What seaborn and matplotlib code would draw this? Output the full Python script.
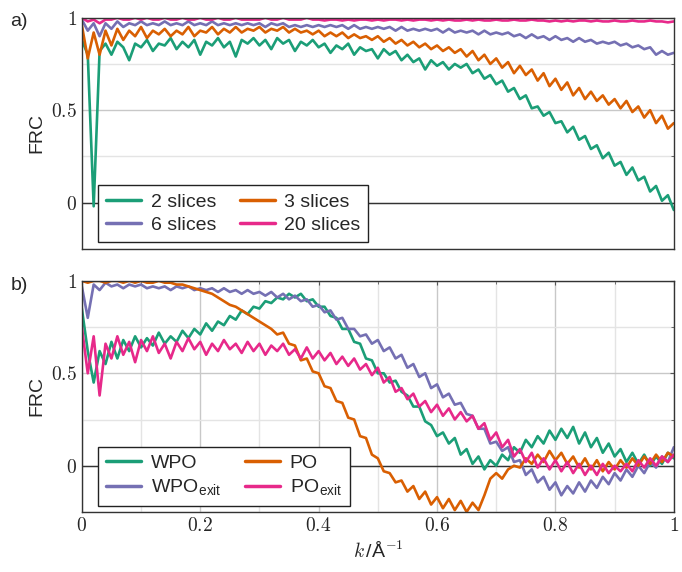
import numpy as np
import pandas as pd
import seaborn as sns
import matplotlib.pyplot as plt
from matplotlib.ticker import MultipleLocator

# spatial frequency grid (1/Angstrom)
k = np.round(np.linspace(0, 1, 101), 2)

# a) FRC for different numbers of slices
frc_2 = [0.88, 0.80, -0.02, 0.82, 0.86, 0.80, 0.87, 0.84, 0.77, 0.86,
         0.84, 0.88, 0.82, 0.86, 0.85, 0.89, 0.83, 0.87, 0.84, 0.88,
         0.80, 0.87, 0.85, 0.89, 0.84, 0.87, 0.79, 0.88, 0.86, 0.89,
         0.85, 0.88, 0.83, 0.89, 0.86, 0.88, 0.82, 0.87, 0.85, 0.88,
         0.84, 0.86, 0.81, 0.85, 0.83, 0.86, 0.80, 0.84, 0.82, 0.83,
         0.78, 0.83, 0.80, 0.82, 0.77, 0.80, 0.76, 0.78, 0.72, 0.77,
         0.74, 0.76, 0.72, 0.75, 0.73, 0.75, 0.70, 0.72, 0.67, 0.69,
         0.64, 0.66, 0.60, 0.62, 0.56, 0.58, 0.51, 0.52, 0.47, 0.49,
         0.43, 0.44, 0.38, 0.41, 0.34, 0.36, 0.29, 0.31, 0.24, 0.27,
         0.20, 0.22, 0.15, 0.19, 0.12, 0.14, 0.06, 0.09, 0.01, 0.04,
         -0.04]
frc_3 = [0.96, 0.78, 0.92, 0.80, 0.93, 0.85, 0.94, 0.88, 0.93, 0.90,
         0.95, 0.89, 0.93, 0.91, 0.94, 0.90, 0.93, 0.91, 0.95, 0.90,
         0.93, 0.92, 0.95, 0.91, 0.94, 0.92, 0.95, 0.92, 0.94, 0.93,
         0.95, 0.92, 0.94, 0.93, 0.95, 0.92, 0.94, 0.92, 0.93, 0.91,
         0.93, 0.90, 0.92, 0.90, 0.92, 0.89, 0.91, 0.89, 0.90, 0.88,
         0.90, 0.87, 0.89, 0.86, 0.88, 0.85, 0.87, 0.84, 0.86, 0.83,
         0.85, 0.82, 0.84, 0.81, 0.83, 0.79, 0.82, 0.77, 0.80, 0.75,
         0.78, 0.73, 0.76, 0.70, 0.74, 0.69, 0.72, 0.66, 0.70, 0.63,
         0.67, 0.61, 0.65, 0.58, 0.62, 0.56, 0.60, 0.55, 0.58, 0.53,
         0.56, 0.51, 0.55, 0.49, 0.52, 0.46, 0.50, 0.43, 0.47, 0.40,
         0.43]
frc_6 = [0.99, 0.93, 0.97, 0.90, 0.97, 0.94, 0.98, 0.95, 0.97, 0.96,
         0.98, 0.96, 0.97, 0.96, 0.98, 0.96, 0.97, 0.96, 0.98, 0.96,
         0.97, 0.96, 0.98, 0.96, 0.97, 0.96, 0.97, 0.96, 0.97, 0.96,
         0.97, 0.95, 0.97, 0.96, 0.97, 0.95, 0.96, 0.95, 0.96, 0.95,
         0.96, 0.95, 0.96, 0.95, 0.96, 0.94, 0.96, 0.94, 0.95, 0.94,
         0.95, 0.94, 0.95, 0.93, 0.95, 0.93, 0.94, 0.93, 0.94, 0.93,
         0.94, 0.92, 0.94, 0.92, 0.93, 0.92, 0.93, 0.91, 0.93, 0.91,
         0.92, 0.91, 0.92, 0.90, 0.91, 0.89, 0.91, 0.89, 0.90, 0.88,
         0.90, 0.88, 0.89, 0.87, 0.89, 0.87, 0.88, 0.86, 0.87, 0.86,
         0.87, 0.85, 0.86, 0.84, 0.85, 0.83, 0.84, 0.80, 0.82, 0.80,
         0.81]
frc_20 = [1.00, 0.98, 0.99, 0.97, 0.99, 0.99, 1.00, 0.99, 0.99, 1.00,
          0.99, 1.00, 0.99, 0.99, 1.00, 0.99, 0.99, 1.00, 0.99, 0.99,
          1.00, 0.99, 0.99, 1.00, 0.99, 0.99, 1.00, 0.99, 0.99, 0.99,
          0.99, 1.00, 0.99, 0.99, 1.00, 0.99, 0.99, 0.99, 1.00, 0.99,
          0.99, 0.985, 0.99, 0.99, 0.985, 0.99, 0.985, 0.99, 0.99, 0.985,
          0.99, 0.985, 0.99, 0.99, 0.985, 0.99, 0.985, 0.99, 0.99, 0.985,
          0.99, 0.985, 0.99, 0.985, 0.985, 0.99, 0.985, 0.99, 0.985, 0.985,
          0.99, 0.985, 0.985, 0.99, 0.985, 0.985, 0.99, 0.985, 0.985, 0.98,
          0.985, 0.98, 0.985, 0.98, 0.985, 0.985, 0.98, 0.985, 0.98, 0.98,
          0.985, 0.98, 0.98, 0.985, 0.98, 0.98, 0.985, 0.98, 0.98, 0.975,
          0.98]

# b) FRC for the different reconstruction schemes
frc_wpo = [0.85, 0.62, 0.45, 0.62, 0.55, 0.67, 0.58, 0.68, 0.62, 0.70,
           0.64, 0.69, 0.65, 0.72, 0.66, 0.70, 0.67, 0.73, 0.69, 0.74,
           0.71, 0.77, 0.73, 0.78, 0.76, 0.81, 0.79, 0.84, 0.82, 0.86,
           0.85, 0.89, 0.88, 0.91, 0.90, 0.93, 0.91, 0.93, 0.89, 0.90,
           0.86, 0.86, 0.81, 0.80, 0.74, 0.74, 0.67, 0.66, 0.58, 0.57,
           0.50, 0.50, 0.45, 0.46, 0.40, 0.38, 0.32, 0.32, 0.24, 0.22,
           0.16, 0.18, 0.12, 0.15, 0.06, 0.09, 0.01, 0.05, -0.02, 0.03,
           0.00, 0.06, 0.03, 0.10, 0.07, 0.14, 0.10, 0.16, 0.12, 0.19,
           0.14, 0.20, 0.15, 0.21, 0.12, 0.18, 0.10, 0.15, 0.07, 0.12,
           0.05, 0.09, 0.02, 0.07, 0.01, 0.06, 0.00, 0.05, 0.01, 0.07,
           0.04]
frc_wpo_exit = [0.97, 0.80, 0.98, 0.95, 0.99, 0.97, 0.98, 0.96, 0.98, 0.97,
                0.98, 0.96, 0.97, 0.96, 0.97, 0.95, 0.97, 0.96, 0.97, 0.95,
                0.96, 0.95, 0.96, 0.94, 0.96, 0.94, 0.95, 0.93, 0.95, 0.93,
                0.94, 0.92, 0.94, 0.91, 0.93, 0.90, 0.92, 0.89, 0.90, 0.86,
                0.87, 0.83, 0.84, 0.79, 0.80, 0.74, 0.74, 0.70, 0.71, 0.66,
                0.68, 0.62, 0.64, 0.58, 0.60, 0.53, 0.55, 0.48, 0.50, 0.42,
                0.44, 0.37, 0.39, 0.33, 0.34, 0.28, 0.27, 0.20, 0.20, 0.12,
                0.13, 0.08, 0.10, 0.02, 0.03, -0.05, -0.02, -0.09, -0.06, -0.13,
                -0.09, -0.16, -0.11, -0.15, -0.09, -0.14, -0.08, -0.12, -0.06, -0.10,
                -0.04, -0.08, -0.02, -0.06, 0.00, -0.04, 0.02, -0.01, 0.05, 0.02,
                0.10]
frc_po = [1.00, 0.99, 1.00, 1.00, 0.99, 1.00, 1.00, 0.99, 1.00, 0.99,
          1.00, 0.99, 0.99, 1.00, 0.99, 0.99, 0.98, 0.98, 0.97, 0.96,
          0.95, 0.94, 0.93, 0.91, 0.89, 0.87, 0.86, 0.84, 0.82, 0.80,
          0.78, 0.76, 0.74, 0.71, 0.72, 0.66, 0.65, 0.57, 0.58, 0.51,
          0.50, 0.43, 0.42, 0.35, 0.34, 0.26, 0.25, 0.16, 0.15, 0.06,
          0.04, -0.03, -0.04, -0.09, -0.08, -0.14, -0.11, -0.18, -0.14, -0.21,
          -0.17, -0.23, -0.18, -0.24, -0.19, -0.25, -0.20, -0.24, -0.16, -0.07,
          -0.04, -0.07, -0.02, 0.00, -0.01, 0.04, 0.01, 0.06, 0.02, 0.08,
          0.03, 0.07, 0.01, 0.05, -0.01, 0.04, -0.02, 0.03, -0.03, 0.02,
          -0.02, 0.03, -0.01, 0.04, 0.00, 0.05, 0.01, 0.06, 0.02, 0.07,
          0.05]
frc_po_exit = [0.75, 0.50, 0.70, 0.38, 0.66, 0.58, 0.70, 0.60, 0.67, 0.56,
               0.68, 0.62, 0.70, 0.61, 0.66, 0.58, 0.67, 0.62, 0.69, 0.63,
               0.67, 0.60, 0.66, 0.62, 0.68, 0.63, 0.66, 0.61, 0.67, 0.62,
               0.66, 0.60, 0.65, 0.62, 0.66, 0.60, 0.63, 0.58, 0.64, 0.58,
               0.62, 0.57, 0.61, 0.55, 0.59, 0.54, 0.58, 0.52, 0.55, 0.49,
               0.53, 0.45, 0.48, 0.40, 0.42, 0.36, 0.39, 0.32, 0.35, 0.29,
               0.33, 0.27, 0.31, 0.25, 0.29, 0.24, 0.27, 0.20, 0.23, 0.14,
               0.18, 0.10, 0.14, 0.05, 0.09, 0.02, 0.07, -0.01, 0.04, -0.02,
               0.03, -0.03, 0.02, -0.04, 0.01, -0.05, 0.00, -0.05, 0.01, -0.04,
               0.00, -0.03, 0.01, -0.03, 0.03, -0.01, 0.04, 0.00, 0.05, 0.02,
               0.06]

labels_a = ['2 slices', '6 slices', '3 slices', '20 slices']
labels_b = ['WPO', r'WPO$_\mathregular{exit}$', 'PO', r'PO$_\mathregular{exit}$']
colors_a = ['#1b9e77', '#7570b3', '#d95f02', '#e7298a']
colors_b = ['#1b9e77', '#7570b3', '#d95f02', '#e7298a']

y_ticks = [0, 0.5, 1]
y_ticklabels = ['$0$', '$0.5$', '$1$']
x_ticks = [0, 0.2, 0.4, 0.6, 0.8, 1]
x_ticklabels = ['$0$', '$0.2$', '$0.4$', '$0.6$', '$0.8$', '$1$']


def long_frame(names, curves):
    return pd.concat([pd.DataFrame({'k': k, 'FRC': v, 'series': n})
                      for n, v in zip(names, curves)], ignore_index=True)


df_a = long_frame(labels_a, [frc_2, frc_6, frc_3, frc_20])
df_b = long_frame(labels_b, [frc_wpo, frc_wpo_exit, frc_po, frc_po_exit])

sns.set_style('white')
plt.rcParams['font.family'] = ['Liberation Sans', 'DejaVu Sans']
plt.rcParams['mathtext.fontset'] = 'cm'

fig = plt.figure(figsize=(6.82, 5.72), dpi=100)
ax_a = fig.add_axes([0.120, 0.565, 0.868, 0.404])
ax_b = fig.add_axes([0.120, 0.105, 0.868, 0.404])


def style_axes(ax, show_x):
    ax.set_xlim(0, 1)
    ax.set_ylim(-0.25, 1)
    ax.set_yticks(y_ticks)
    ax.set_yticklabels(y_ticklabels, fontsize=14)
    ax.yaxis.set_minor_locator(MultipleLocator(0.25))
    ax.grid(which='major', axis='y', color='#c8c8c8', lw=1.0)
    ax.grid(which='minor', axis='y', color='#e4e4e4', lw=1.0)
    if show_x:
        ax.set_xticks(x_ticks)
        ax.set_xticklabels(x_ticklabels, fontsize=14)
        ax.xaxis.set_minor_locator(MultipleLocator(0.1))
        ax.grid(which='major', axis='x', color='#c8c8c8', lw=1.0)
        ax.grid(which='minor', axis='x', color='#e4e4e4', lw=1.0)
    else:
        ax.set_xticks([])
    ax.tick_params(which='both', direction='in', length=3, right=True,
                   top=show_x, color='#555555')
    ax.tick_params(which='minor', length=2)
    ax.axhline(0, color='#333333', lw=1.0, zorder=1)
    for s in ax.spines.values():
        s.set_color('#333333')
        s.set_linewidth(1.0)
    ax.set_ylabel('FRC', fontsize=14, labelpad=4)
    ax.set_axisbelow(True)


sns.lineplot(data=df_a, x='k', y='FRC', hue='series', hue_order=labels_a,
             palette=colors_a, lw=1.9, ax=ax_a, zorder=2)
sns.lineplot(data=df_b, x='k', y='FRC', hue='series', hue_order=labels_b,
             palette=colors_b, lw=1.9, ax=ax_b, zorder=2)

style_axes(ax_a, False)
style_axes(ax_b, True)
ax_a.set_xlabel('')
ax_b.set_xlabel(r'$k\,$/Å$^{-1}$', fontsize=14, labelpad=4)

for ax, anchor in [(ax_a, (0.028, 0.03)), (ax_b, (0.028, 0.026))]:
    h, l = ax.get_legend_handles_labels()
    leg = ax.legend(h, l, ncol=2, loc='lower left', bbox_to_anchor=anchor,
                    borderaxespad=0, fontsize=14, frameon=True, fancybox=False,
                    framealpha=1, edgecolor='#222222', handlelength=1.8,
                    columnspacing=1.2, handletextpad=0.5, labelspacing=0.3,
                    borderpad=0.4)
    leg.get_frame().set_linewidth(1.0)
    for line in leg.get_lines():
        line.set_linewidth(2.5)

fig.text(0.015, 0.955, 'a)', fontsize=14)
fig.text(0.015, 0.493, 'b)', fontsize=14)

fig.savefig('out.png', dpi=100)
